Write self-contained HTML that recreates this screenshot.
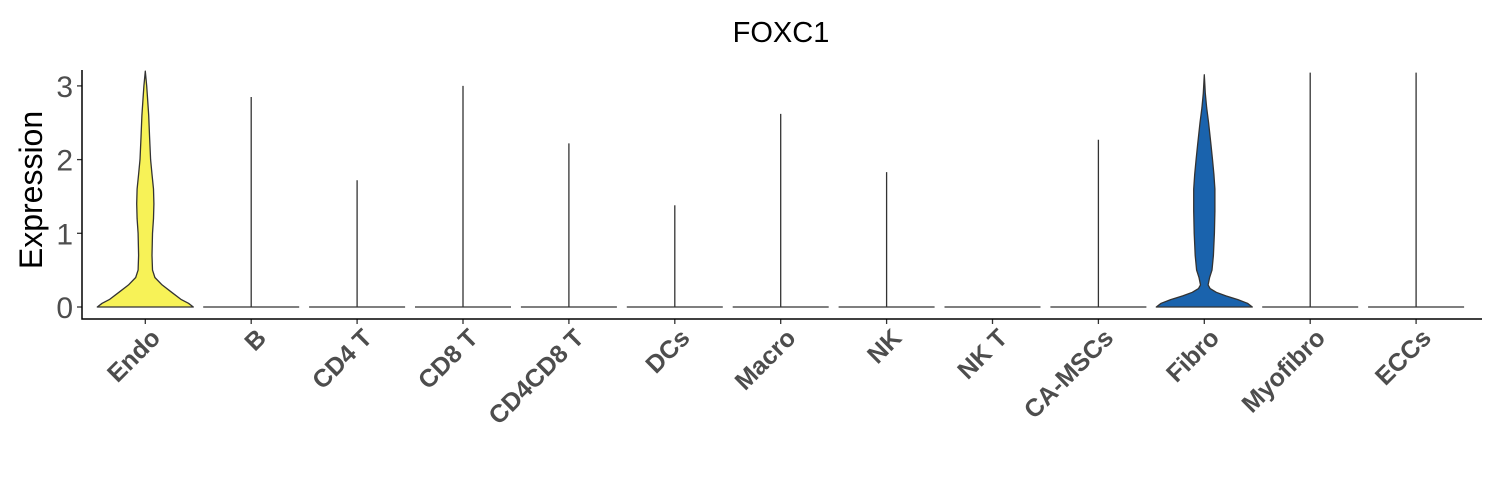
<!DOCTYPE html>
<html><head><meta charset="utf-8"><style>
html,body{margin:0;padding:0;background:#fff;}
svg{display:block;font-family:"Liberation Sans",Arial,sans-serif;}
</style></head><body>
<svg id="chart" width="1500" height="500" viewBox="0 0 1500 500">
<text x="781" y="42" font-size="29" text-anchor="middle" fill="#000">FOXC1</text>
<text transform="translate(42,190) rotate(-90)" font-size="32" text-anchor="middle" fill="#000">Expression</text>
<g id="plot"></g>
</svg>
<script>
const categories = ["Endo","B","CD4 T","CD8 T","CD4CD8 T","DCs","Macro","NK","NK T","CA-MSCs","Fibro","Myofibro","ECCs"];
const maxValues = [3.2,2.85,1.72,3.0,2.22,1.38,2.62,1.83,0,2.27,3.15,3.18,3.18];
const fillColors = ["#f7f257","#ffffff","#ffffff","#ffffff","#ffffff","#ffffff","#ffffff","#ffffff","#ffffff","#ffffff","#1a63ad","#ffffff","#ffffff"];
// density profiles (relative half-widths at expression levels)
const endoLevels = [0,0.05,0.1,0.2,0.3,0.4,0.5,0.7,1.0,1.2,1.4,1.6,1.8,2.0,2.3,2.6,2.8,3.0,3.1,3.2];
const endoWidths = [1,0.9,0.75,0.55,0.35,0.2,0.15,0.14,0.15,0.17,0.18,0.17,0.14,0.11,0.09,0.07,0.05,0.03,0.015,0];
const fibroLevels = [0,0.05,0.1,0.15,0.2,0.25,0.3,0.4,0.5,0.7,1.0,1.3,1.6,1.8,2.0,2.2,2.5,2.7,2.9,3.05,3.15];
const fibroWidths = [1,0.9,0.7,0.45,0.25,0.12,0.08,0.11,0.16,0.19,0.21,0.22,0.22,0.2,0.17,0.14,0.09,0.05,0.02,0.008,0];
const yTicks = [0,1,2,3];

const ns="http://www.w3.org/2000/svg";
const g=document.getElementById('plot');
const X0=82, X1=1482, Y0=307, PER=73.7, STEP=105.9, C0=145.3, HW=48;
const xPos=i=>C0+STEP*i;
const yPos=v=>Y0-v*PER;
function mk(tag,attrs){const e=document.createElementNS(ns,tag);for(const k in attrs)e.setAttribute(k,attrs[k]);g.appendChild(e);return e;}

categories.forEach((c,i)=>{
  const cx=xPos(i);
  let levels,widths;
  if(i===0){levels=endoLevels;widths=endoWidths;}
  else if(i===10){levels=fibroLevels;widths=fibroWidths;}
  else {levels=[0,0.01];widths=[1,0];}
  if(levels.length>2){
    let pts=[];
    for(let k=0;k<levels.length;k++)pts.push([cx+widths[k]*HW,yPos(levels[k])]);
    for(let k=levels.length-1;k>=0;k--)pts.push([cx-widths[k]*HW,yPos(levels[k])]);
    const v=mk('path',{d:'M'+pts.map(p=>p[0].toFixed(1)+','+p[1].toFixed(1)).join('L')+'Z',fill:fillColors[i],stroke:'#333',"stroke-width":1.3,"stroke-linejoin":"round"});
    
    
  } else {
    const b=mk('line',{x1:cx-HW,x2:cx+HW,y1:Y0,y2:Y0,stroke:'#333',"stroke-width":1.3});
    
    
    if(maxValues[i]>0){
      const l=mk('line',{x1:cx,x2:cx,y1:Y0,y2:yPos(maxValues[i]),stroke:'#333',"stroke-width":1.3});
      
      
    }
  }
  const t=mk('line',{x1:cx,x2:cx,y1:319,y2:324,stroke:'#333',"stroke-width":1.3});
  
  
  const lb=mk('text',{transform:`translate(${cx+3},326) rotate(-45)`,x:0,y:19,"text-anchor":"end","font-size":25,"font-weight":"bold",fill:"#4d4d4d"});
  lb.textContent=c;
  
  
});
yTicks.forEach(v=>{
  const t=mk('line',{x1:77,x2:82,y1:yPos(v),y2:yPos(v),stroke:'#333',"stroke-width":1.3});
  
  
  const lb=mk('text',{x:73,y:yPos(v)+11,"text-anchor":"end","font-size":30,fill:"#4d4d4d"});
  lb.textContent=v;
  
  
});
const ax=mk('path',{d:`M${X0},70 L${X0},319 L${X1},319`,fill:'none',stroke:'#000',"stroke-width":1.5});


</script>
</body></html>
